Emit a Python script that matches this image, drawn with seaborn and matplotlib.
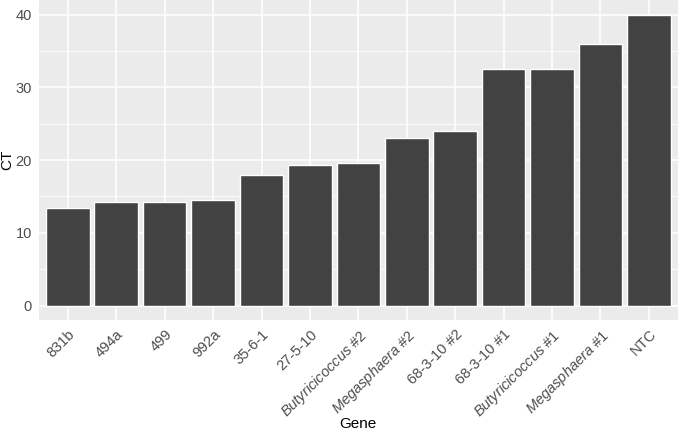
import pandas as pd
import seaborn as sns
import matplotlib.pyplot as plt
import matplotlib.ticker as mticker

genes = ["831b", "494a", "499", "992a", "35-6-1", "27-5-10",
         "$\\mathit{Butyricicoccus}$ #2", "$\\mathit{Megasphaera}$ #2",
         "68-3-10 #2", "68-3-10 #1",
         "$\\mathit{Butyricicoccus}$ #1", "$\\mathit{Megasphaera}$ #1", "NTC"]
ct = [13.4, 14.2, 14.2, 14.45, 17.9, 19.3, 19.6, 23.0, 24.0, 32.5, 32.5, 35.95, 40.0]

df = pd.DataFrame({"Gene": genes, "CT": ct})

sns.set_theme(style="darkgrid")
plt.rcParams["font.family"] = ["Liberation Sans", "DejaVu Sans"]
plt.rcParams["mathtext.fontset"] = "custom"
plt.rcParams["mathtext.it"] = "Liberation Sans:italic"
plt.rcParams["mathtext.rm"] = "Liberation Sans"

fig = plt.figure(figsize=(6.8, 4.32), dpi=100)
ax = fig.add_axes([0.057, 0.259, 0.940, 0.741])
ax.set_facecolor("#EBEBEB")

sns.barplot(data=df, x="Gene", y="CT", color="#424242", width=0.9,
            saturation=1, ax=ax)

ax.set_xlim(-0.6, len(genes) - 0.4)
ax.set_ylim(-2, 42)
ax.yaxis.set_major_locator(mticker.MultipleLocator(10))
ax.yaxis.set_minor_locator(mticker.MultipleLocator(5))
ax.grid(True, which="major", color="white", linewidth=1.1)
ax.grid(True, which="minor", axis="y", color="white", linewidth=0.55)
ax.set_axisbelow(True)
for s in ax.spines.values():
    s.set_visible(False)

ax.tick_params(axis="both", which="major", length=3, width=0.8, color="#333333",
               labelsize=10.5, labelcolor="#4D4D4D", pad=2)
ax.tick_params(axis="both", which="minor", length=0)
plt.setp(ax.get_xticklabels(), rotation=45, ha="right", rotation_mode="anchor")

ax.set_xlabel("Gene", fontsize=11, color="black", va="center")
ax.xaxis.set_label_coords(0.5, -0.325)
ax.set_ylabel("CT", fontsize=11, color="black", va="center")
ax.yaxis.set_label_coords(-0.049, 0.5)

plt.savefig("out.png", dpi=100)
